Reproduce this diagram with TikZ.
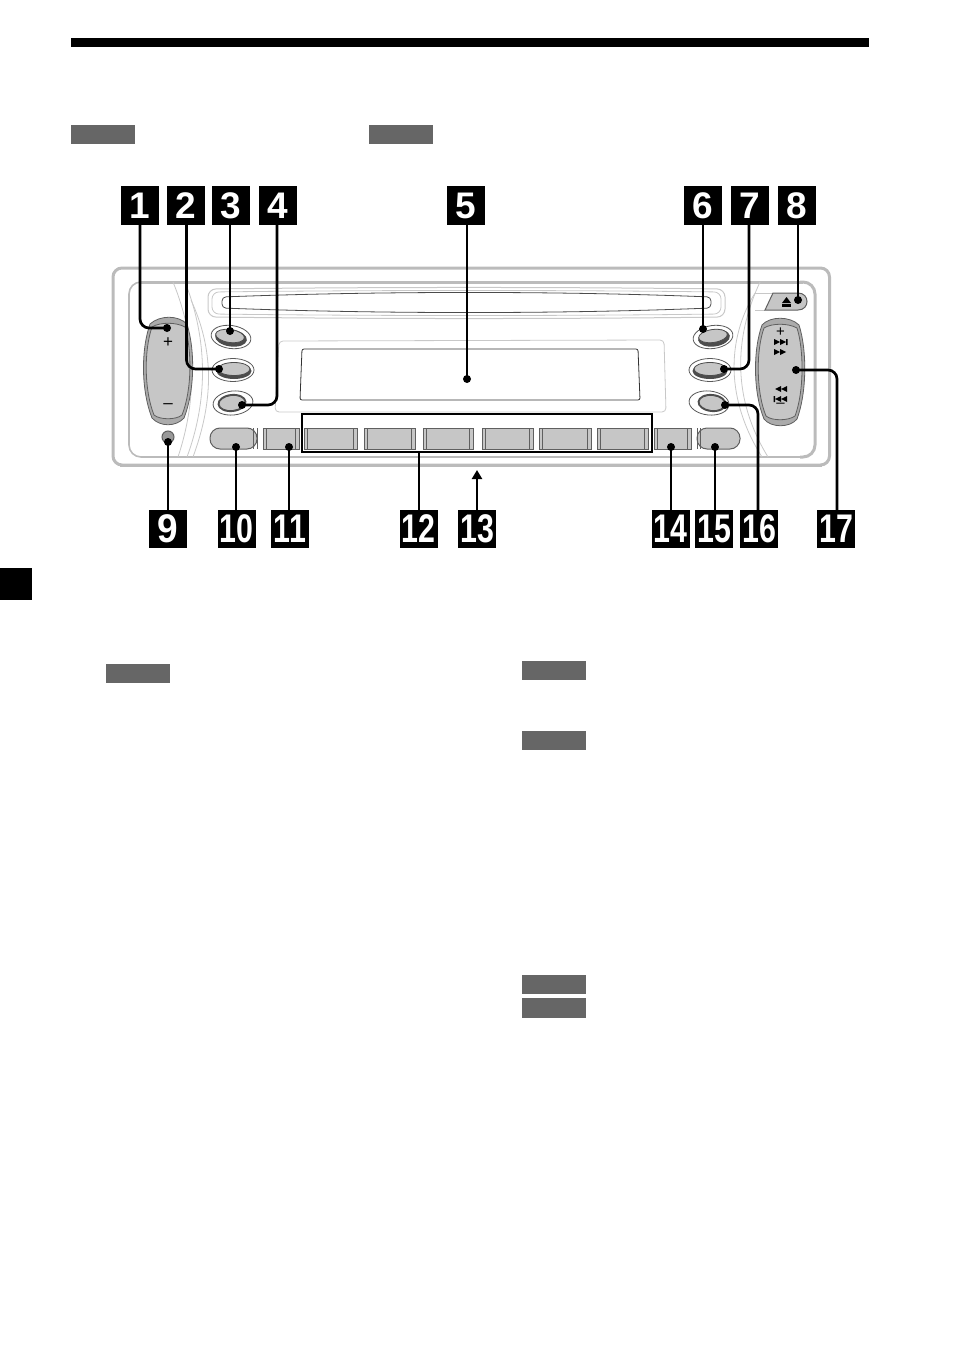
\documentclass[tikz,border=0pt]{standalone}
\usepackage{fontspec}
\usepackage{graphicx}
\setmainfont{Liberation Sans}
\usetikzlibrary{arrows.meta}
\definecolor{tagfill}{HTML}{666666}
\definecolor{keyfill}{HTML}{C6C6C6}
\definecolor{keyedge}{HTML}{5F5F5F}
\definecolor{rimfill}{HTML}{ABABAB}
\definecolor{panelline}{HTML}{BBBBBB}
\definecolor{faintline}{HTML}{C8C8C8}
\tikzset{
  badge/.style={fill=black,text=white,minimum size=38pt,inner sep=0pt,font=\fontsize{37}{37}\selectfont\bfseries},
  tagbox/.style={fill=tagfill,draw=none},
  dotend/.style={circle,fill=black,inner sep=0pt,minimum size=8pt},
  leader/.style={draw=black,line width=2.7pt,rounded corners=9pt},
  barkey/.style={draw=keyedge,line width=1pt,fill=keyfill},
  ringkey/.style={draw=black!65,line width=.8pt,fill=white},
  corekey/.style={draw=black!70,line width=.8pt,fill=keyfill},
  corelow/.style={fill=black!70},
  glyphs/.style={fill=black}
}
\newcommand{\barkeys}[2]{\filldraw[barkey] (#1,428) rectangle (#2,449);
  \draw[keyedge,line width=1.3pt] (#1+3.5,428) -- (#1+3.5,449) (#2-3.5,428) -- (#2-3.5,449);}
\begin{document}
\begin{tikzpicture}[x=1pt,y=-1pt]
        \useasboundingbox (0,0) rectangle (954,1351);
        % page marks
        \fill (71,38) rectangle (869,47);
        \fill (0,568) rectangle (32,600);
        \fill[tagbox] (71,125) rectangle (135,144);
        \fill[tagbox] (369,125) rectangle (433,144);
        \fill[tagbox] (106,664) rectangle (170,683);
        \fill[tagbox] (522,661) rectangle (586,680);
        \fill[tagbox] (522,731) rectangle (586,750);
        \fill[tagbox] (522,975) rectangle (586,994);
        \fill[tagbox] (522,998) rectangle (586,1018);
        % front panel
        \draw[panelline,line width=3pt,rounded corners=9pt] (113,268) rectangle (829.5,465);
        \draw[panelline,line width=3pt] (120,465.5) -- (822,465.5);
        \draw[panelline,line width=3pt] (829.5,277) -- (829.5,456);
        \draw[panelline,line width=1.6pt,rounded corners=12pt] (129,282) rectangle (815,457);
        \draw[panelline,line width=3pt] (141,282) -- (803,282);
        \draw[panelline,line width=3pt,rounded corners=12pt] (800,282) -- (815,282) -- (815,457) -- (800,457);
        \draw[faintline,line width=.8pt] (173,282) .. controls (197,340) and (197,400) .. (178,457);
        \draw[faintline,line width=.8pt] (185,282) .. controls (208,340) and (208,400) .. (187,457);
        \draw[faintline,line width=.8pt] (191,300) .. controls (214,350) and (214,400) .. (193,457);
        \draw[faintline,line width=.8pt] (760,282) .. controls (733,340) and (733,400) .. (768,457);
        \draw[faintline,line width=.8pt] (755,293) .. controls (726,340) and (726,400) .. (762,457);
        \draw[faintline,line width=.8pt] (755,293) -- (773,293) (755,310) -- (765,310);
        % disc slot
        \draw[faintline,line width=1pt,rounded corners=8pt] (208,289) .. controls (380,287) and (560,287) .. (725,289) -- (725,317) .. controls (560,319) and (380,319) .. (208,317) -- cycle;
        \draw[faintline,line width=.8pt,rounded corners=7pt] (212,292) .. controls (380,290) and (560,290) .. (721,292) -- (721,314) .. controls (560,316) and (380,316) .. (212,314) -- cycle;
        \draw[black!70,fill=white,line width=.8pt,rounded corners=4pt] (222,297) .. controls (380,291) and (560,291) .. (711,297) -- (711,308) .. controls (560,314) and (380,314) .. (222,308) -- cycle;
        % display
        \draw[faintline,line width=.8pt,rounded corners=4pt] (279,341) -- (664,340) -- (666,412) -- (275,412) -- cycle;
        \draw[black!80,line width=.8pt,rounded corners=2pt] (302,349) -- (638,349) -- (640,400) -- (300,400) -- cycle;
        % rocker keys
        \path[draw=keyedge,line width=.8pt,fill=rimfill] (150,324) .. controls (160,315) and (178,315) .. (187,324)
          .. controls (195,350) and (195,390) .. (184,418) .. controls (176,427) and (160,427) .. (152,418)
          .. controls (141,390) and (141,350) .. (150,324) -- cycle;
        \path[draw=keyedge,line width=.8pt,fill=keyfill] (152,327) .. controls (160,322) and (176,322) .. (185,327)
          .. controls (192,350) and (192,390) .. (182,415) .. controls (176,420) and (160,420) .. (154,415)
          .. controls (144,390) and (144,350) .. (152,327) -- cycle;
        \node[inner sep=0pt,font=\fontsize{17}{17}\selectfont] (plusa) at (168,343) {+};
        \node[inner sep=0pt,font=\fontsize{17}{17}\selectfont] (minusa) at (168,406) {–};
        \path[draw=keyedge,line width=.8pt,fill=rimfill] (762,325) .. controls (770,316) and (790,316) .. (799,325)
          .. controls (807,350) and (807,392) .. (797,419) .. controls (790,428) and (771,428) .. (764,419)
          .. controls (753,392) and (753,350) .. (762,325) -- cycle;
        \path[draw=keyedge,line width=.8pt,fill=keyfill] (764,328) .. controls (772,323) and (788,323) .. (797,328)
          .. controls (804,350) and (804,392) .. (795,416) .. controls (788,421) and (772,421) .. (766,416)
          .. controls (756,392) and (756,350) .. (764,328) -- cycle;
        \node[inner sep=0pt,font=\fontsize{15}{15}\selectfont] (plusb) at (780.5,332) {+};
        \node[inner sep=0pt,font=\fontsize{15}{15}\selectfont] (minusb) at (780.5,405) {–};
        \fill[glyphs] (774,339) -- (780,342) -- (774,345) -- cycle (780,339) -- (786,342) -- (780,345) -- cycle (786,339) rectangle (787.5,345);
        \fill[glyphs] (774,349) -- (780,352) -- (774,355) -- cycle (780,349) -- (786,352) -- (780,355) -- cycle;
        \fill[glyphs] (781,386) -- (775,389) -- (781,392) -- cycle (787,386) -- (781,389) -- (787,392) -- cycle;
        \fill[glyphs] (781,396) -- (775,399) -- (781,402) -- cycle (787,396) -- (781,399) -- (787,402) -- cycle (773.5,396) rectangle (775,402);
        % eject key
        \path[draw=keyedge,line width=1pt,fill=keyfill] (773,293) -- (798,293) .. controls (810,293) and (810,310) .. (798,310) -- (765,310) -- cycle;
        \fill[glyphs] (786.5,297) -- (791,303) -- (782,303) -- cycle;
        \fill[glyphs] (782,304) rectangle (791,306.5);
        % round keys
        \draw[ringkey,rotate around={-8:(231,337)}] (231,337) ellipse (20 and 11.5);
        \fill[corelow,rotate around={-8:(231,338)}] (231,338) ellipse (16 and 8.5);
        \draw[corekey,rotate around={-8:(230,336)}] (230,336) ellipse (14.5 and 6.5);
        \draw[ringkey] (233,370) ellipse (21 and 11.5);
        \fill[corelow] (234,371) ellipse (17.5 and 8);
        \draw[corekey] (234,369) ellipse (16 and 6.5);
        \draw[ringkey,rotate around={6:(233,403)}] (233,403) ellipse (20 and 12);
        \fill[corelow,rotate around={6:(232,403)}] (232,403) ellipse (14.5 and 9);
        \draw[corekey,rotate around={6:(232,403)}] (232,403) ellipse (13 and 7.5);
        \draw[ringkey,rotate around={8:(713,337)}] (713,337) ellipse (20 and 11.5);
        \fill[corelow,rotate around={8:(714,338)}] (714,338) ellipse (16 and 8.5);
        \draw[corekey,rotate around={8:(713,336)}] (713,336) ellipse (14.5 and 6.5);
        \draw[ringkey] (710,370) ellipse (21 and 11.5);
        \fill[corelow] (710,371) ellipse (17.5 and 8);
        \draw[corekey] (710,369) ellipse (16 and 6.5);
        \draw[ringkey,rotate around={-6:(709,403)}] (709,403) ellipse (20 and 12);
        \fill[corelow,rotate around={-6:(712,403)}] (712,403) ellipse (14.5 and 9);
        \draw[corekey,rotate around={-6:(712,403)}] (712,403) ellipse (13 and 7.5);
        % bottom row keys
        \filldraw[barkey,rounded corners=10pt] (210,428) -- (257,428) -- (257,449) -- (210,449) -- cycle;
        \filldraw[barkey,rounded corners=10pt] (697,428) -- (740,428) -- (740,449) -- (697,449) -- cycle;
        \draw[barkey] (257,428) -- (257,449) (697,428) -- (697,449);
        \barkeys{263}{299}
        \barkeys{304}{357}
        \barkeys{364}{415}
        \barkeys{423}{473}
        \barkeys{482}{533}
        \barkeys{539}{591}
        \barkeys{597}{648}
        \barkeys{654}{691}
        \draw[keyedge,line width=1.3pt] (253.5,428) -- (253.5,449) (700.5,428) -- (700.5,449);
        \filldraw[draw=keyedge,fill=black!40,line width=1pt] (168,437) circle (6pt);
        % numbers
        \node[badge] (n1) at (139.5,205.5) {1};
        \node[badge] (n2) at (186,205.5) {2};
        \node[badge] (n3) at (231,205.5) {3};
        \node[badge] (n4) at (278,205.5) {4};
        \node[badge] (n5) at (466,205.5) {5};
        \node[badge] (n6) at (703,205.5) {6};
        \node[badge] (n7) at (750,205.5) {7};
        \node[badge] (n8) at (797,205.5) {8};
        \node[badge] (n9) at (168,529) {\scalebox{1}[1.08]{9}};
        \node[badge] (n10) at (236.5,529) {\scalebox{.82}[1.08]{10}};
        \node[badge] (n11) at (290,529) {\scalebox{.82}[1.08]{11}};
        \node[badge] (n12) at (418.5,529) {\scalebox{.82}[1.08]{12}};
        \node[badge] (n13) at (477,529) {\scalebox{.82}[1.08]{13}};
        \node[badge] (n14) at (670.5,529) {\scalebox{.82}[1.08]{14}};
        \node[badge] (n15) at (714,529) {\scalebox{.82}[1.08]{15}};
        \node[badge] (n16) at (759,529) {\scalebox{.82}[1.08]{16}};
        \node[badge] (n17) at (836,529) {\scalebox{.82}[1.08]{17}};
        % leader ends
        \node[dotend] (e1) at (167,328) {};
        \node[dotend] (e2) at (219,369) {};
        \node[dotend] (e3) at (230,331) {};
        \node[dotend] (e4) at (242,405) {};
        \node[dotend] (e5) at (467,379) {};
        \node[dotend] (e6) at (703,329) {};
        \node[dotend] (e7) at (724,369) {};
        \node[dotend] (e8) at (798,300) {};
        \node[dotend] (e9) at (168,442) {};
        \node[dotend] (e10) at (236,447) {};
        \node[dotend] (e11) at (289,447) {};
        \node[dotend] (e14) at (671,447) {};
        \node[dotend] (e15) at (715,447) {};
        \node[dotend] (e16) at (725,405) {};
        \node[dotend] (e17) at (796,370) {};
        \node[draw=black,line width=2.7pt,inner sep=0pt,minimum width=350pt,minimum height=38pt] (presets) at (477,433) {};
        \coordinate (e13) at (477,470);
        \draw[leader] (e1.center) -- (140,328) -- (140,224);
        \draw[leader] (e2.center) -- (186.5,369) -- (186.5,224);
        \draw[leader] (n3.south -| e3) -- (e3.center);
        \draw[leader] (e4.center) -- (277,405) -- (277,224);
        \draw[leader] (n5.south -| e5) -- (e5.center);
        \draw[leader] (n6.south -| e6) -- (e6.center);
        \draw[leader] (e7.center) -- (749,369) -- (749,224);
        \draw[leader] (n8.south -| e8) -- (e8.center);
        \draw[leader] (n9.north -| e9) -- (e9.center);
        \draw[leader] (n10.north -| e10) -- (e10.center);
        \draw[leader] (n11.north -| e11) -- (e11.center);
        \draw[leader] (n12.north -| 419,0) -- (presets.south -| 419,0);
        \draw[leader,-{Triangle[length=9pt,width=10pt]}] (n13.north) -- (e13);
        \draw[leader] (n14.north -| e14) -- (e14.center);
        \draw[leader] (n15.north -| e15) -- (e15.center);
        \draw[leader] (e16.center) -- (758,405) -- (758,510);
        \draw[leader] (e17.center) -- (837,370) -- (837,510);
\end{tikzpicture}
\end{document}
